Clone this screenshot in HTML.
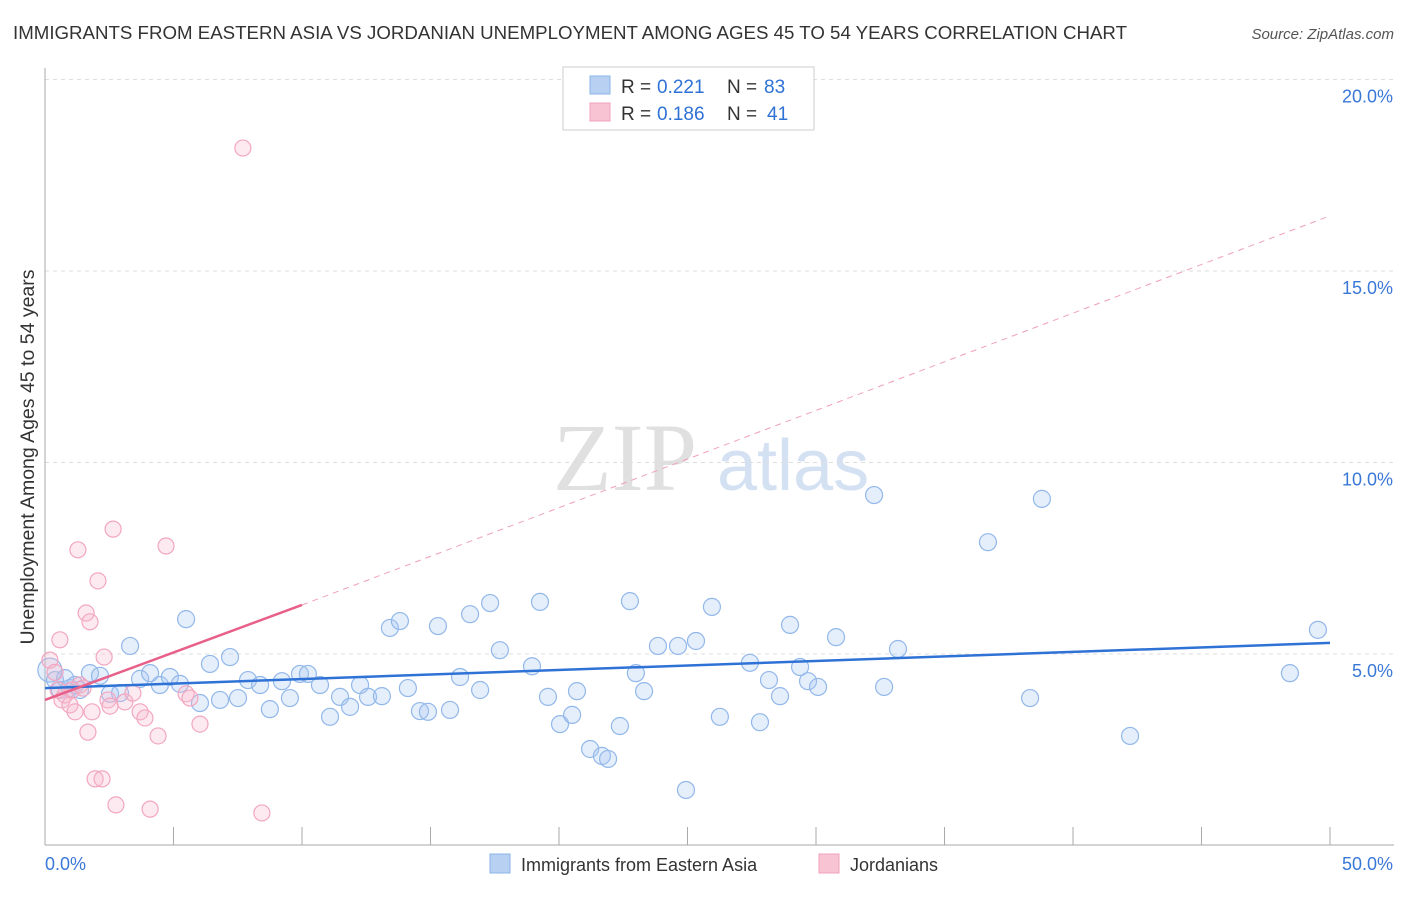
<!DOCTYPE html>
<html><head><meta charset="utf-8">
<style>
html,body{margin:0;padding:0;background:#fff;}
body{width:1406px;height:892px;overflow:hidden;font-family:"Liberation Sans",sans-serif;}
</style></head>
<body>
<svg id="chart" width="1406" height="892" xmlns="http://www.w3.org/2000/svg" font-family="Liberation Sans, sans-serif">
<text x="13" y="39" font-size="18.6" fill="#333" textLength="1114" lengthAdjust="spacingAndGlyphs">IMMIGRANTS FROM EASTERN ASIA VS JORDANIAN UNEMPLOYMENT AMONG AGES 45 TO 54 YEARS CORRELATION CHART</text>
<text x="1394" y="39" font-size="15" fill="#555" font-style="italic" text-anchor="end">Source: ZipAtlas.com</text>
<g>
<text x="553" y="490" font-size="96" font-family="Liberation Serif, serif" fill="#e0e0e0">ZIP</text>
<text x="717" y="490" font-size="72" fill="#d4e1f3">atlas</text>
</g>
<g id="grid"></g>
<g id="axes"></g>
<g id="marks"></g>
<text transform="translate(34,457) rotate(-90)" font-size="19.5" fill="#333" text-anchor="middle">Unemployment Among Ages 45 to 54 years</text>
<g>
<rect x="563" y="67" width="251" height="63" fill="#fff" stroke="#ccc"/>
<g>
<rect x="590" y="76" width="20" height="18" fill="#b8d0f2" stroke="#8ab4e8"/>
<text x="621" y="93" font-size="19" fill="#333">R =</text>
<text x="657" y="93" font-size="19" fill="#2f72d6">0.221</text>
<text x="727" y="93" font-size="19" fill="#333">N =</text>
<text x="764" y="93" font-size="19" fill="#2f72d6">83</text>
</g>
<g>
<rect x="590" y="103" width="20" height="18" fill="#f8c4d4" stroke="#f0a0bc"/>
<text x="621" y="120" font-size="19" fill="#333">R =</text>
<text x="657" y="120" font-size="19" fill="#2f72d6">0.186</text>
<text x="727" y="120" font-size="19" fill="#333">N =</text>
<text x="767" y="120" font-size="19" fill="#2f72d6">41</text>
</g>
</g>
<g>
<g>
<rect x="490" y="854" width="20" height="19" fill="#b8d0f2" stroke="#8ab4e8"/>
<text x="521" y="871" font-size="18" fill="#333">Immigrants from Eastern Asia</text>
</g>
<g>
<rect x="819" y="854" width="20" height="19" fill="#f8c4d4" stroke="#f0a0bc"/>
<text x="850" y="871" font-size="18" fill="#333">Jordanians</text>
</g>
</g>
</svg>
<script>
const blueX=[0.19,0.39,0.58,0.78,0.97,1.17,1.36,1.75,2.14,2.53,2.92,3.31,3.70,4.09,4.47,4.86,5.25,5.49,6.03,6.42,6.81,7.20,7.51,7.90,8.37,8.75,9.22,9.53,9.92,10.23,10.70,11.09,11.48,11.87,12.26,12.57,13.11,13.42,13.81,14.12,14.59,14.90,15.29,15.76,16.15,16.54,16.93,17.32,17.70,18.95,19.26,19.57,20.04,20.51,20.70,21.21,21.67,21.91,22.37,22.76,22.99,23.31,23.85,24.63,24.94,25.33,25.95,26.26,27.43,27.82,28.17,28.60,28.99,29.38,29.69,30.08,30.78,32.26,32.65,33.19,36.69,38.33,38.79,42.22,48.44,49.53];
const blueY=[4.58,4.32,4.06,4.37,4.11,4.19,4.06,4.50,4.43,3.96,3.98,5.21,4.35,4.50,4.19,4.40,4.22,5.91,3.72,4.74,3.80,4.92,3.85,4.32,4.19,3.56,4.29,3.85,4.48,4.48,4.19,3.36,3.88,3.62,4.19,3.88,3.90,5.68,5.86,4.11,3.51,3.49,5.73,3.54,4.40,6.04,4.06,6.33,5.10,4.68,6.36,3.88,3.17,3.41,4.03,2.52,2.34,2.26,3.12,6.38,4.50,4.03,5.21,5.21,1.45,5.34,6.23,3.36,4.77,3.22,4.32,3.90,5.76,4.66,4.29,4.14,5.44,9.15,4.14,5.13,7.92,3.85,9.05,2.86,4.50,5.63];
const pinkX=[0.19,0.39,0.51,0.58,0.66,0.78,0.97,1.05,1.17,1.28,1.36,1.48,1.60,1.67,1.75,1.83,1.95,2.06,2.22,2.30,2.45,2.53,2.65,2.76,3.11,3.42,3.70,3.89,4.09,4.40,4.71,5.49,5.64,6.03,7.70,8.44];
const pinkY=[4.84,4.52,4.06,5.37,3.80,3.93,3.67,4.06,3.49,7.72,4.19,4.11,6.07,2.96,5.84,3.49,1.74,6.91,1.74,4.92,3.80,3.64,8.26,1.06,3.75,3.98,3.49,3.33,0.95,2.86,7.82,3.96,3.85,3.17,18.21,0.85];
const blueTrendX=[0,50];
const blueTrendY=[4.11,5.29];
const pinkTrendX=[0,10];
const pinkTrendY=[3.80,6.28];
const pinkDashX=[10,50];
const pinkDashY=[6.28,16.44];
const yTicks=[5,10,15,20];
const yTickLabels=["5.0%","10.0%","15.0%","20.0%"];
const xTicks=[0,5,10,15,20,25,30,35,40,45,50];

const X0=45,X1=1330,Y0=845.5,YS=38.3;
const sx=v=>X0+(X1-X0)*v/50;
const sy=v=>Y0-v*YS;
const NS="http://www.w3.org/2000/svg";
function mk(tag,attrs,parent){const e=document.createElementNS(NS,tag);for(const k in attrs)e.setAttribute(k,attrs[k]);parent.appendChild(e);return e;}
const grid=document.getElementById('grid'),axes=document.getElementById('axes'),marks=document.getElementById('marks');
yTicks.forEach((t,i)=>{
  const l=mk('line',{x1:X0,x2:1394,y1:sy(t),y2:sy(t),stroke:'#ddd','stroke-dasharray':'4,4'},grid);
  
  
  const tx=mk('text',{x:1393,y:sy(t)+23,'font-size':18,fill:'#3a78d8','text-anchor':'end'},axes);
  tx.textContent=yTickLabels[i];
  
  
});
const ax=mk('line',{x1:X0,x2:1394,y1:845,y2:845,stroke:'#aaa'},axes);


const ay=mk('line',{x1:X0,x2:X0,y1:68,y2:845,stroke:'#aaa'},axes);


xTicks.forEach(t=>{
  const l=mk('line',{x1:sx(t),x2:sx(t),y1:827,y2:845,stroke:'#aaa'},axes);
  
  
});
const xl0=mk('text',{x:45,y:870,'font-size':18,fill:'#3a78d8'},axes);xl0.textContent='0.0%';


const xl1=mk('text',{x:1393,y:870,'font-size':18,fill:'#3a78d8','text-anchor':'end'},axes);xl1.textContent='50.0%';



blueX.forEach((v,i)=>{
  const c=mk('circle',{cx:sx(v),cy:sy(blueY[i]),r:i===0?12:8.5,fill:'rgba(170,200,242,0.3)',stroke:'#92b8ea','stroke-width':1.2},marks);
  
  
});
pinkX.forEach((v,i)=>{
  const c=mk('circle',{cx:sx(v),cy:sy(pinkY[i]),r:8,fill:'rgba(248,186,206,0.3)',stroke:'#f2a6c0','stroke-width':1.2},marks);
  
  
});
const bt=mk('line',{x1:sx(blueTrendX[0]),y1:sy(blueTrendY[0]),x2:sx(blueTrendX[1]),y2:sy(blueTrendY[1]),stroke:'#2f72d6','stroke-width':2.5},marks);


const pt=mk('line',{x1:sx(pinkTrendX[0]),y1:sy(pinkTrendY[0]),x2:sx(pinkTrendX[1]),y2:sy(pinkTrendY[1]),stroke:'#e8608a','stroke-width':2.5},marks);


const pd=mk('line',{x1:sx(pinkDashX[0]),y1:sy(pinkDashY[0]),x2:sx(pinkDashX[1]),y2:sy(pinkDashY[1]),stroke:'#f0a0bc','stroke-width':1,'stroke-dasharray':'6,5'},marks);


</script>
</body></html>
